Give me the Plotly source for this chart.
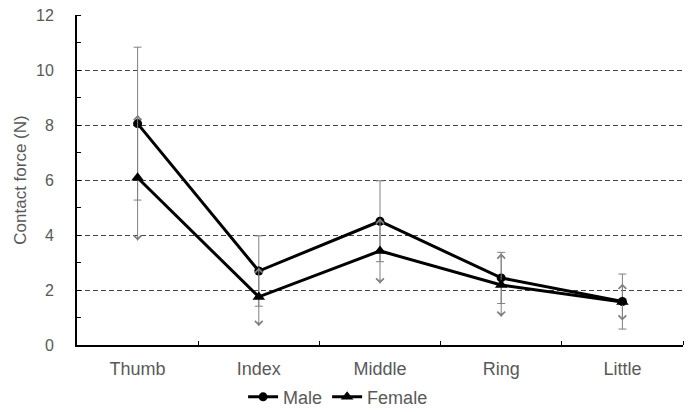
import plotly.graph_objects as go

# Fingertip contact force by finger, mean ± SD
fingers = ["Thumb", "Index", "Middle", "Ring", "Little"]
male_force = [8.05, 2.69, 4.50, 2.44, 1.58]
male_sd = [2.78, 1.28, 1.47, 0.93, 1.00]
female_force = [6.08, 1.75, 3.42, 2.18, 1.56]
female_sd = [2.28, 1.06, 1.18, 1.15, 0.67]
y_ticks = [0, 2, 4, 6, 8, 10, 12]

xpos = list(range(len(fingers)))
TEXT_GREY = "#595959"
BAR_GREY = "#808080"
FONT = "Liberation Sans, Arial, sans-serif"

fig = go.Figure()

fig.add_trace(go.Scatter(
    x=xpos, y=male_force, name="Male", mode="lines+markers",
    line=dict(color="black", width=3),
    marker=dict(symbol="circle", size=9, color="black"),
    error_y=dict(type="data", array=male_sd, visible=True,
                 color=BAR_GREY, thickness=1, width=4),
))

fig.add_trace(go.Scatter(
    x=xpos, y=female_force, name="Female", mode="lines+markers",
    line=dict(color="black", width=3),
    marker=dict(symbol="triangle-up", size=11, color="black"),
    error_y=dict(type="data", array=female_sd, visible=True,
                 color=BAR_GREY, thickness=1, width=0),
))

# open arrowheads at both ends of the female error bars
arrow_heads = []
for x, v, e in zip(xpos, female_force, female_sd):
    for sign in (1, -1):
        tip = v + sign * e
        arrow_heads.append(dict(
            x=x, y=tip, ax=x, ay=tip - sign * 0.2,
            xref="x", yref="y", axref="x", ayref="y",
            text="", showarrow=True, arrowhead=4, arrowsize=1.5,
            arrowwidth=1, arrowcolor=BAR_GREY, standoff=0,
        ))

fig.update_layout(
    width=690, height=412,
    margin=dict(l=77, r=7, t=15, b=67, autoexpand=False),
    paper_bgcolor="white", plot_bgcolor="white",
    font=dict(family=FONT, size=16, color=TEXT_GREY),
    annotations=arrow_heads,
    showlegend=True,
    legend=dict(
        orientation="h", xref="container", yref="container",
        x=0.49, xanchor="center", y=0.036, yanchor="middle",
        font=dict(family=FONT, size=18, color=TEXT_GREY),
        itemwidth=30, tracegroupgap=0,
    ),
)

fig.update_xaxes(
    range=[-0.5, len(fingers) - 0.5],
    tickvals=xpos, ticktext=fingers,
    tickfont=dict(family=FONT, size=18, color=TEXT_GREY),
    ticks="", showgrid=False, zeroline=False,
    showline=True, linecolor="black", linewidth=2,
    ticklabelstandoff=6,
    minor=dict(tickvals=[i + 0.5 for i in xpos], ticks="inside",
               ticklen=4, tickcolor="black", tickwidth=1, showgrid=False),
    automargin=False,
    fixedrange=True,
)

fig.update_yaxes(
    range=[0, 12], tickvals=y_ticks,
    tickfont=dict(family=FONT, size=16, color=TEXT_GREY),
    ticks="", showgrid=True, gridcolor="#444444", gridwidth=1,
    griddash="5px,3px", zeroline=False,
    showline=True, linecolor="black", linewidth=2,
    ticklabelstandoff=18,
    minor=dict(dtick=1, ticks="inside", ticklen=4, tickcolor="black",
               tickwidth=1, showgrid=False),
    title=dict(text="Contact force (N)", standoff=5,
               font=dict(family=FONT, size=17, color=TEXT_GREY)),
    automargin=False,
    fixedrange=True,
)

fig.write_html("out.html")
